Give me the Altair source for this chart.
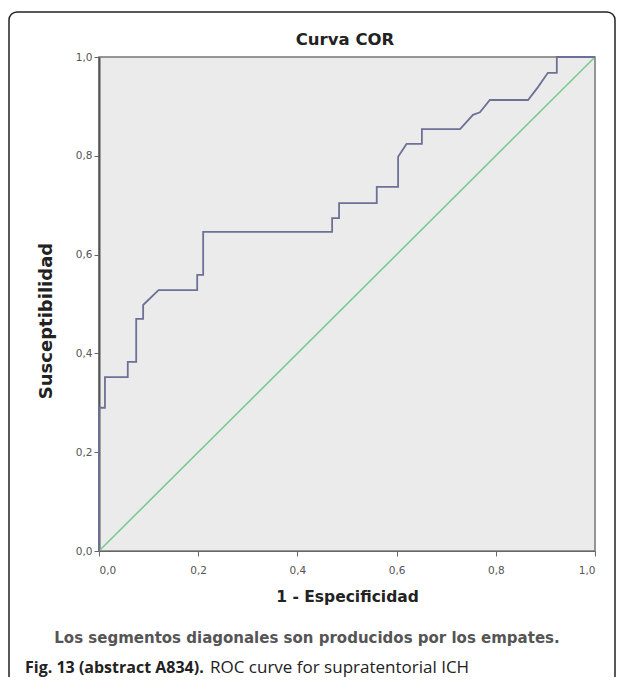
import altair as alt
import pandas as pd

# ROC curve points (1 - specificity, sensitivity)
fpr = [0.0, 0.0, 0.012, 0.012, 0.058, 0.058, 0.075, 0.075, 0.089, 0.089, 0.12,
       0.198, 0.198, 0.21, 0.21, 0.47, 0.47, 0.484, 0.484, 0.56, 0.56, 0.603,
       0.603, 0.62, 0.651, 0.651, 0.728, 0.754, 0.768, 0.788, 0.865, 0.885,
       0.905, 0.923, 0.923, 1.0]
tpr = [0.0, 0.29, 0.29, 0.352, 0.352, 0.383, 0.383, 0.47, 0.47, 0.498, 0.528,
       0.528, 0.559, 0.559, 0.646, 0.646, 0.674, 0.674, 0.704, 0.704, 0.737,
       0.737, 0.798, 0.824, 0.824, 0.854, 0.854, 0.883, 0.888, 0.913, 0.913,
       0.939, 0.968, 0.968, 1.0, 1.0]
ref_x = [0.0, 1.0]
ref_y = [0.0, 1.0]

chart_title = "Curva COR"
x_title = "1 - Especificidad"
y_title = "Susceptibilidad"
note = "Los segmentos diagonales son producidos por los empates."
fig_bold = "Fig. 13 (abstract A834)."
fig_rest = "ROC curve for supratentorial ICH"

roc = pd.DataFrame({"fpr": fpr, "tpr": tpr, "order": list(range(len(fpr)))})
ref = pd.DataFrame({"fpr": ref_x, "tpr": ref_y})

W, H = 496, 494
label_expr = "replace(format(datum.value, '.1f'), '.', ',')"

xscale = alt.Scale(domain=[0, 1], nice=False, zero=False)
yscale = alt.Scale(domain=[0, 1], nice=False, zero=False)

xax = alt.Axis(values=[0, 0.2, 0.4, 0.6, 0.8, 1.0], labelExpr=label_expr,
               grid=False, domainColor="#666", tickColor="#666", tickSize=5,
               labelColor="#555", labelFontSize=10.5, labelFont="DejaVu Sans",
               labelPadding=9, title=x_title, titleFontSize=15.5,
               titleFont="DejaVu Sans", titleFontWeight="bold", titleColor="#222",
               titlePadding=14)
yax = alt.Axis(values=[0, 0.2, 0.4, 0.6, 0.8, 1.0], labelExpr=label_expr,
               grid=False, domainColor="#555", domainWidth=2, tickColor="#666",
               tickSize=5, labelColor="#555", labelFontSize=10.5,
               labelFont="DejaVu Sans", labelPadding=2, title=None)

diag = alt.Chart(ref).mark_line(color="#7acc8e", strokeWidth=1.6).encode(
    x=alt.X("fpr:Q", scale=xscale, axis=xax),
    y=alt.Y("tpr:Q", scale=yscale, axis=yax),
)

curve = alt.Chart(roc).mark_line(color="#6e7196", strokeWidth=1.8).encode(
    x=alt.X("fpr:Q", scale=xscale),
    y=alt.Y("tpr:Q", scale=yscale),
    order="order:Q",
)

# annotation texts
title_txt = alt.Chart(pd.DataFrame({"t": [chart_title]})).mark_text(
    font="DejaVu Sans", fontSize=16.5, fontWeight="bold", color="#222",
    align="center", baseline="middle"
).encode(text="t:N", x=alt.value(W / 2 - 2), y=alt.value(-17))

ytitle_txt = alt.Chart(pd.DataFrame({"t": [y_title]})).mark_text(
    font="DejaVu Sans", fontSize=18, fontWeight="bold", color="#222",
    align="center", baseline="middle", angle=270
).encode(text="t:N", x=alt.value(-52), y=alt.value(264))

note_txt = alt.Chart(pd.DataFrame({"t": [note]})).mark_text(
    font="DejaVu Sans", fontSize=15, fontWeight="bold", color="#555",
    align="center", baseline="middle"
).encode(text="t:N", x=alt.value(208), y=alt.value(581))

fig_b = alt.Chart(pd.DataFrame({"t": [fig_bold]})).mark_text(
    font="Open Sans", fontSize=16, fontWeight="bold", color="#222",
    align="left", baseline="middle"
).encode(text="t:N", x=alt.value(-74), y=alt.value(611))

fig_r = alt.Chart(pd.DataFrame({"t": [fig_rest]})).mark_text(
    font="Open Sans", fontSize=17, color="#222", align="left", baseline="middle"
).encode(text="t:N", x=alt.value(111), y=alt.value(611))

border = alt.Chart(pd.DataFrame({"a": [0]})).mark_rect(
    fill=None, stroke="#222", strokeWidth=1.5, cornerRadius=8
).encode(x=alt.value(-90), x2=alt.value(516), y=alt.value(-45), y2=alt.value(628))

chart = alt.layer(diag, curve, title_txt, ytitle_txt, note_txt, fig_b, fig_r, border).properties(
    width=W, height=H,
    padding={"left": 91, "top": 49, "right": 22, "bottom": 126},
    autosize=alt.AutoSizeParams(type="none"),
    background="white",
).configure_view(fill="#ebebeb", stroke="#777", strokeWidth=1.5)

chart.save("out.html", embed_options={"renderer": "svg", "actions": False})
